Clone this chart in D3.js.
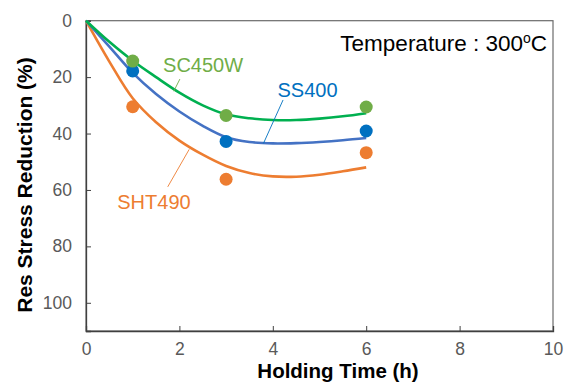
<!DOCTYPE html>
<html>
<head>
<meta charset="utf-8">
<script src="https://cdn.jsdelivr.net/npm/d3@7"></script>
<style>
  body { margin: 0; background: #fff; }
  svg text { font-family: "Liberation Sans", Arial, sans-serif; }
</style>
</head>
<body>
<div id="chart"></div>
<script>
// measured points
const times = [1, 3, 6];
const sc450w = [14.3, 33.6, 30.6];
const ss400 = [17.8, 42.8, 39.1];
const sht490 = [30.5, 56.2, 46.8];

// trend curves
const fitTimes = [0, 0.5, 1, 1.5, 2, 2.5, 3, 3.5, 4, 4.5, 5, 5.5, 6];
const sc450wFit = [0, 7.5, 14.2, 20, 25.5, 30, 33.2, 34.6, 35.2, 35.2, 34.7, 33.9, 32.8];
const ss400Fit = [0, 9.2, 18.5, 26, 32.2, 37.3, 41.3, 43, 43.5, 43.4, 43, 42.4, 41.6];
const sht490Fit = [0, 14.5, 27.5, 36, 42.5, 47.5, 51.5, 54, 55.2, 55.3, 54.6, 53.4, 52];

const xTicks = [0, 2, 4, 6, 8, 10];
const yTicks = [0, 20, 40, 60, 80, 100];

var margin = {top: 20.7, right: 14, bottom: 52, left: 86},
    width = 567 - margin.left - margin.right,
    height = 383 - margin.top - margin.bottom;

var svg = d3.select("#chart")
  .append("svg")
    .attr("width", 567)
    .attr("height", 383)
  .append("g")
    .attr("transform", "translate(" + margin.left + "," + margin.top + ")");

var x = d3.scaleLinear().domain([0, 10]).range([0, width]);
var y = d3.scaleLinear().domain([0, 110]).range([0, height]);

// frame
svg.append("rect")
  .attr("width", width).attr("height", height)
  .attr("fill", "none").attr("stroke", "#6b6b6b").attr("stroke-width", 1.2);

// Y axis (ticks inward)
var yAxis = svg.append("g")
  .call(d3.axisLeft(y).tickValues(yTicks).tickSize(-5).tickPadding(14));
yAxis.select(".domain").attr("stroke", "#404040").attr("stroke-width", 1.3);
yAxis.selectAll(".tick line").attr("stroke", "#404040");
yAxis.selectAll("text").attr("fill", "#595959").style("font-size", "17.5px");

// X axis (ticks inward)
var xAxis = svg.append("g")
  .attr("transform", "translate(0," + height + ")")
  .call(d3.axisBottom(x).tickValues(xTicks).tickSize(-5).tickPadding(12));
xAxis.select(".domain").attr("stroke", "#404040").attr("stroke-width", 1.3);
xAxis.selectAll(".tick line").attr("stroke", "#404040");
xAxis.selectAll("text").attr("fill", "#595959").style("font-size", "17.5px");

// axis titles
svg.append("text")
  .attr("transform", "translate(" + (32 - margin.left) + "," + (185 - margin.top) + ")rotate(-90)")
  .attr("text-anchor", "middle")
  .style("font-size", "21px").style("font-weight", "bold")
  .text("Res Stress Reduction (%)");

svg.append("text")
  .attr("x", 338 - margin.left)
  .attr("y", 378 - margin.top)
  .attr("text-anchor", "middle")
  .style("font-size", "20.5px").style("font-weight", "bold")
  .text("Holding Time (h)");

var series = [
  {name: "SHT490", pts: sht490, fit: sht490Fit, line: "#ED7D31", dot: "#ED7D31", label: "#ED7D31",
   lx: 0.67, ly: 66.9, l1: [2.21, 45.6], l2: [1.75, 58.9]},
  {name: "SS400", pts: ss400, fit: ss400Fit, line: "#4472C4", dot: "#0070C0", label: "#0070C0",
   lx: 4.1, ly: 27.0, l1: [3.8, 43.5], l2: [4.22, 28.1]},
  {name: "SC450W", pts: sc450w, fit: sc450wFit, line: "#00B050", dot: "#70AD47", label: "#70AD47",
   lx: 1.65, ly: 18.2, l1: [1.88, 25.0], l2: [2.01, 20.7]}
];

var line = d3.line()
  .x(function(d, i) { return x(fitTimes[i]); })
  .y(function(d) { return y(d); })
  .curve(d3.curveCatmullRom);

// curves
series.forEach(function(s) {
  svg.append("path")
    .attr("d", line(s.fit))
    .attr("fill", "none")
    .attr("stroke", s.line)
    .attr("stroke-width", 2.6);
});

// leader lines and labels
series.forEach(function(s) {
  svg.append("line")
    .attr("x1", x(s.l1[0])).attr("y1", y(s.l1[1]))
    .attr("x2", x(s.l2[0])).attr("y2", y(s.l2[1]))
    .attr("stroke", s.label).attr("stroke-width", 0.9);
  svg.append("text")
    .attr("x", x(s.lx)).attr("y", y(s.ly))
    .attr("fill", s.label)
    .style("font-size", "20px")
    .text(s.name);
});

// dots
series.forEach(function(s) {
  svg.selectAll(null)
    .data(s.pts)
    .enter()
    .append("circle")
      .attr("cx", function(d, i) { return x(times[i]); })
      .attr("cy", function(d) { return y(d); })
      .attr("r", 6.5)
      .style("fill", s.dot);
});

// temperature note
var note = svg.append("text")
  .attr("x", 547 - margin.left)
  .attr("y", 50.7 - margin.top)
  .attr("text-anchor", "end")
  .style("font-size", "22.5px")
  .attr("fill", "#000");
note.append("tspan").text("Temperature : 300");
note.append("tspan").attr("dy", -8).style("font-size", "14px").text("o");
note.append("tspan").attr("dy", 8).text("C");
</script>
</body>
</html>
